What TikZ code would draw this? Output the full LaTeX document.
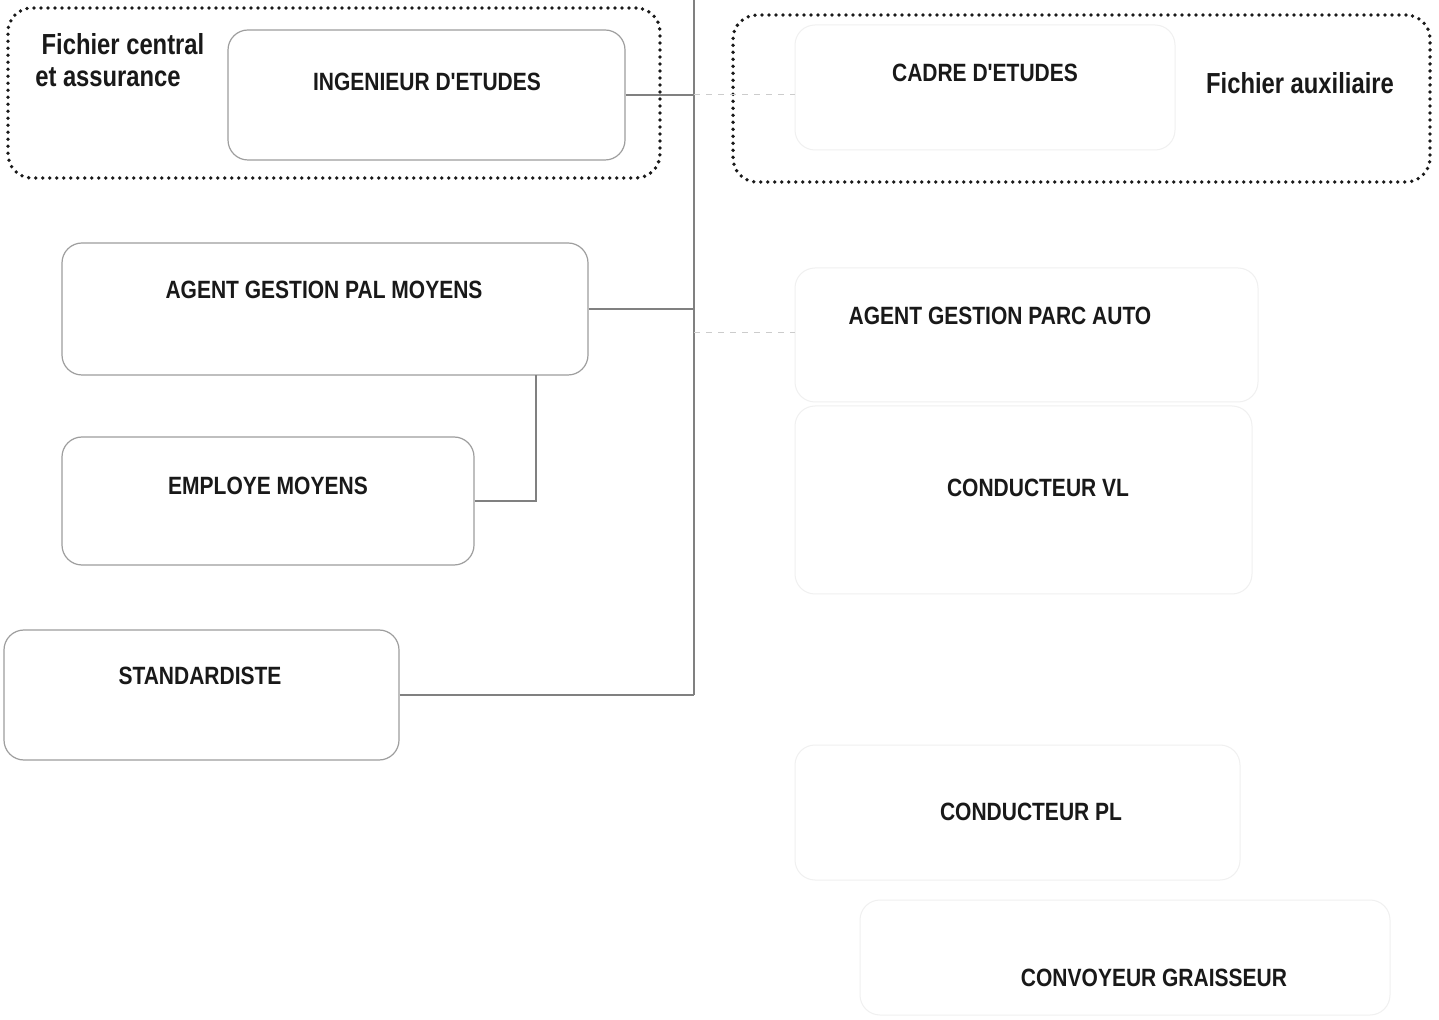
\documentclass[tikz,border=0pt]{standalone}
\usepackage{fontspec}
\setmainfont{Liberation Sans}
\newcommand{\nar}[1]{\scalebox{0.84}[1]{#1}}
\newcommand{\narb}[1]{\scalebox{0.82}[1]{#1}}
\newcommand{\apo}{\textquotesingle}
\begin{document}
\begin{tikzpicture}[x=0.5pt,y=-0.5pt,
  box/.style={draw=black!38, line width=0.6pt, rounded corners=10pt, inner sep=0pt},
  faint/.style={draw=black!6, line width=0.5pt, rounded corners=10pt, inner sep=0pt},
  group/.style={draw=black!90, line width=1.9pt, dash pattern=on 0pt off 3.5pt, line cap=round, rounded corners=12pt, inner sep=0pt},
  lbl/.style={font=\fontsize{12.5pt}{14pt}\selectfont\bfseries, text=black!90, inner sep=0pt},
  big/.style={font=\fontsize{14.5pt}{16pt}\selectfont\bfseries, text=black!90, inner sep=0pt},
  conn/.style={draw=black!50, line width=0.6pt},
  fconn/.style={draw=black!20, line width=0.5pt, dashed}]
\useasboundingbox[fill=white] (0,0) rectangle (1439,1020);
% group frames
\node[group, minimum width=652*0.5pt, minimum height=170*0.5pt] (g1) at (334,93) {};
\node[group, minimum width=697*0.5pt, minimum height=167*0.5pt] (g2) at (1081.5,98.5) {};
% boxes
\node[box, minimum width=397*0.5pt, minimum height=130*0.5pt] (ing) at (426.5,95) {};
\node[faint, minimum width=380*0.5pt, minimum height=125*0.5pt] (cad) at (985,87.5) {};
\node[box, minimum width=526*0.5pt, minimum height=132*0.5pt] (pal) at (325,309) {};
\node[box, minimum width=412*0.5pt, minimum height=128*0.5pt] (emp) at (268,501) {};
\node[box, minimum width=395*0.5pt, minimum height=130*0.5pt] (std) at (201.5,695) {};
\node[faint, minimum width=463*0.5pt, minimum height=134*0.5pt] (parc) at (1026.5,335) {};
\node[faint, minimum width=457*0.5pt, minimum height=188*0.5pt] (vl) at (1023.5,500) {};
\node[faint, minimum width=445*0.5pt, minimum height=135*0.5pt] (pl) at (1017.5,812.5) {};
\node[faint, minimum width=530*0.5pt, minimum height=115*0.5pt] (conv) at (1125,957.5) {};
% labels
\node[big] (fc1) at (123,44) {\narb{Fichier central}};
\node[big] (fc2) at (108,77) {\narb{et assurance}};
\node[big] (fa) at (1300,83) {\narb{Fichier auxiliaire}};
\node[lbl] (tING) at (427,82) {\nar{INGENIEUR D\apo ETUDES}};
\node[lbl] (tCAD) at (985,73) {\nar{CADRE D\apo ETUDES}};
\node[lbl] (tPAL) at (324,290) {\nar{AGENT GESTION PAL MOYENS}};
\node[lbl] (tPARC) at (1000,316) {\nar{AGENT GESTION PARC AUTO}};
\node[lbl] (tEMP) at (268,486) {\nar{EMPLOYE MOYENS}};
\node[lbl] (tVL) at (1038,488) {\nar{CONDUCTEUR VL}};
\node[lbl] (tSTD) at (200,676) {\nar{STANDARDISTE}};
\node[lbl] (tPL) at (1031,812) {\nar{CONDUCTEUR PL}};
\node[lbl] (tCONV) at (1154,978) {\nar{CONVOYEUR GRAISSEUR}};
% connectors
\coordinate (top) at (694,0);
\coordinate (bot) at (694,695);
\coordinate (j) at (536,375);
\coordinate (sp) at (694,333);
\draw[conn] (top) -- (bot);
\draw[conn] (ing.east) -- (ing.east -| top);
\draw[fconn] (ing.east -| top) -- (ing.east -| cad.west);
\draw[conn] (pal.east) -- (pal.east -| top);
\draw[fconn] (sp) -- (sp -| parc.west);
\draw[conn] (emp.east) -| (j);
\draw[conn] (std.east) -- (bot);
\end{tikzpicture}
\end{document}
